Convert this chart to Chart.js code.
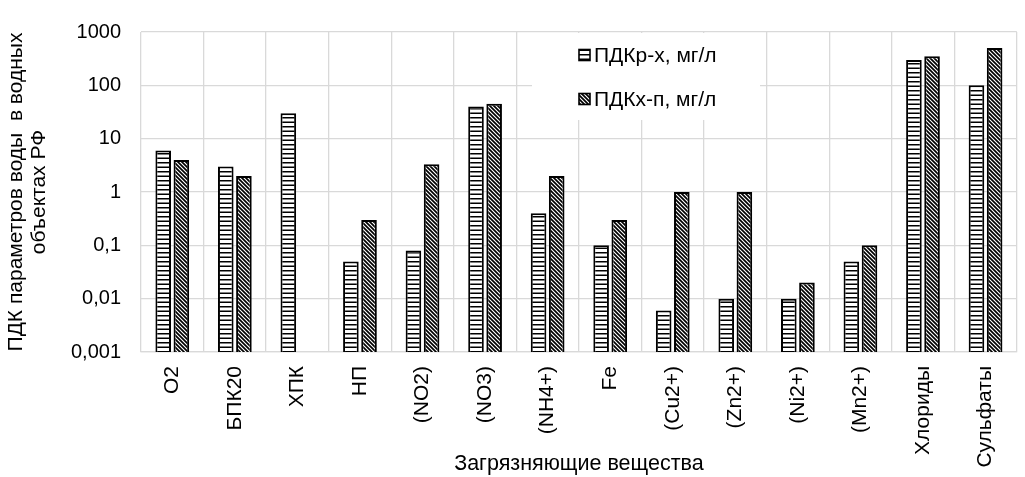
<!DOCTYPE html>
<html>
<head>
<meta charset="utf-8">
<script src="https://cdn.jsdelivr.net/npm/chart.js@4.4.1/dist/chart.umd.min.js"></script>
<style>
  body { margin: 0; background: #fff; }
  #wrap { width: 1025px; height: 477px; }
</style>
</head>
<body>
<div id="wrap"><canvas id="pdkChart" width="1025" height="477"></canvas></div>
<script>
// categories and values
const categories = ['O2', 'БПК20', 'ХПК', 'НП', '(NO2)', '(NO3)', '(NH4+)', 'Fe', '(Cu2+)', '(Zn2+)', '(Ni2+)', '(Mn2+)', 'Хлориды', 'Сульфаты'];
const pdkRx = [6, 3, 30, 0.05, 0.08, 40, 0.4, 0.1, 0.006, 0.01, 0.01, 0.05, 300, 100];
const pdkXp = [4, 2, null, 0.3, 3.3, 45, 2, 0.3, 1, 1, 0.02, 0.1, 350, 500];
const yTickValues = [0.001, 0.01, 0.1, 1, 10, 100, 1000];
const yTickLabels = ['0,001', '0,01', '0,1', '1', '10', '100', '1000'];
const seriesNames = ['ПДКр-х, мг/л', 'ПДКх-п, мг/л'];

const FONT = "'Liberation Sans', Arial, sans-serif";

// horizontal stripes
function stripePattern() {
    const c = document.createElement('canvas');
    c.width = 8; c.height = 9;
    const g = c.getContext('2d');
    g.fillStyle = '#fff';
    g.fillRect(0, 0, 8, 9);
    g.fillStyle = '#000';
    g.fillRect(0, 0, 8, 1.5);
    g.fillRect(0, 4.5, 8, 1.5);
    return g.createPattern(c, 'repeat');
}

// dense "\" hatching
function hatchPattern() {
    const s = 4;
    const c = document.createElement('canvas');
    c.width = s; c.height = s;
    const g = c.getContext('2d');
    g.fillStyle = '#fff';
    g.fillRect(0, 0, s, s);
    g.strokeStyle = '#000';
    g.lineWidth = 1.7;
    g.beginPath();
    g.moveTo(-1, -1); g.lineTo(s + 1, s + 1);
    g.moveTo(-1, s - 1); g.lineTo(1, s + 1);
    g.moveTo(s - 1, -1); g.lineTo(s + 1, 1);
    g.stroke();
    return g.createPattern(c, 'repeat');
}

const fills = [stripePattern(), hatchPattern()];

// legend box sitting inside the plot, over the gridlines
const boxLegend = {
    id: 'boxLegend',
    beforeDatasetsDraw(chart) {
        const ctx = chart.ctx;
        ctx.save();
        ctx.fillStyle = '#fff';
        ctx.fillRect(532, 33, 228, 87);
        ctx.font = '21px ' + FONT;
        ctx.textBaseline = 'middle';
        ctx.textAlign = 'left';
        const rows = [55, 99];
        rows.forEach((y, i) => {
            ctx.fillStyle = fills[i];
            ctx.fillRect(579, y - 5.5, 11, 11);
            ctx.strokeStyle = '#000';
            ctx.lineWidth = 1.6;
            ctx.strokeRect(579, y - 5.5, 11, 11);
            ctx.fillStyle = '#000';
            ctx.fillText(seriesNames[i], 594, y + 1);
        });
        ctx.restore();
    }
};

const chart = new Chart(document.getElementById('pdkChart').getContext('2d'), {
    type: 'bar',
    data: {
        labels: categories,
        datasets: [{
            label: seriesNames[0],
            data: pdkRx,
            backgroundColor: fills[0],
            borderColor: '#000',
            borderWidth: 2,
            borderSkipped: 'bottom',
            barPercentage: 0.86,
            categoryPercentage: 0.58
        }, {
            label: seriesNames[1],
            data: pdkXp,
            backgroundColor: fills[1],
            borderColor: '#000',
            borderWidth: 2,
            borderSkipped: 'bottom',
            barPercentage: 0.86,
            categoryPercentage: 0.58
        }]
    },
    options: {
        responsive: false,
        animation: false,
        layout: { padding: { top: 25, right: 7, bottom: 0, left: 0 } },
        plugins: {
            legend: { display: false },
            tooltip: { enabled: false }
        },
        scales: {
            x: {
                grid: { color: '#d9d9d9', lineWidth: 1.3, drawTicks: false, offset: true },
                border: { color: '#d9d9d9', width: 1.3 },
                ticks: {
                    color: '#000',
                    font: { family: FONT, size: 21 },
                    minRotation: 90,
                    maxRotation: 90,
                    autoSkip: false,
                    padding: 14
                },
                title: {
                    display: true,
                    text: 'Загрязняющие вещества',
                    color: '#000',
                    font: { family: FONT, size: 21.5, lineHeight: 1.2 },
                    padding: { top: 0, bottom: 0 }
                },
                afterFit(scale) { scale.height = 125; }
            },
            y: {
                type: 'logarithmic',
                min: 0.001,
                max: 1000,
                grid: { color: '#d9d9d9', lineWidth: 1.3, drawTicks: false },
                border: { display: false },
                afterBuildTicks(scale) {
                    scale.ticks = yTickValues.map(v => ({ value: v }));
                },
                ticks: {
                    color: '#000',
                    font: { family: FONT, size: 20 },
                    padding: 20,
                    callback: (v, i) => yTickLabels[i]
                },
                title: {
                    display: true,
                    text: ['ПДК параметров воды  в водных', 'объектах РФ'],
                    color: '#000',
                    font: { family: FONT, size: 21, lineHeight: 1.1 },
                    padding: { top: 5, bottom: 0 }
                },
                afterFit(scale) { scale.width = 141; }
            }
        }
    },
    plugins: [boxLegend]
});
</script>
</body>
</html>
